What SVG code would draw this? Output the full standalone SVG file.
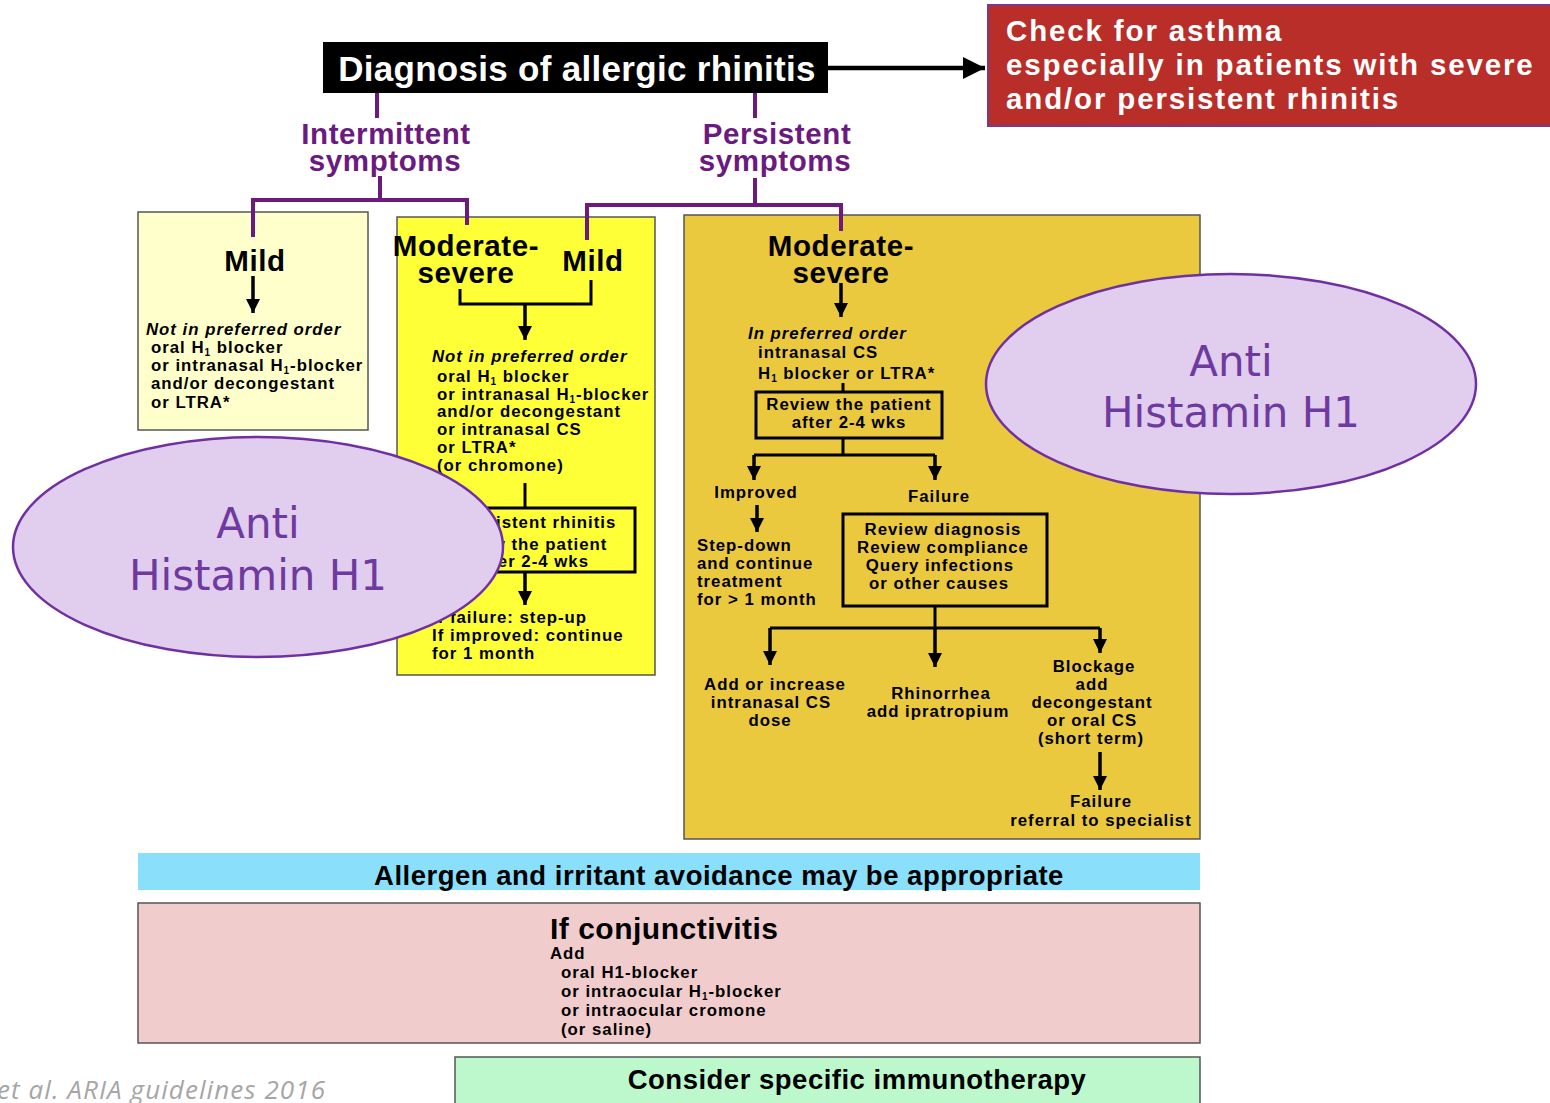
<svg xmlns="http://www.w3.org/2000/svg" width="1550" height="1103" viewBox="0 0 1550 1103">
<defs>
<marker id="ah" markerUnits="userSpaceOnUse" markerWidth="16" markerHeight="14" refX="14" refY="7" orient="auto">
<path d="M0,0 L14,7 L0,14 z" fill="#000"/>
</marker>
<marker id="ahb" markerUnits="userSpaceOnUse" markerWidth="24" markerHeight="22" refX="22" refY="11" orient="auto">
<path d="M0,0 L22,11 L0,22 z" fill="#000"/>
</marker>
</defs>
<style>
text{font-family:"Liberation Sans",Arial,sans-serif;font-weight:bold;fill:#000}
.b{font-size:16.8px;letter-spacing:1px}
.i{font-style:italic}
.big{font-size:29.5px;letter-spacing:0.6px}
.pur{fill:#6b1a80}
.mid{text-anchor:middle}
.box{stroke:#555;stroke-width:1.5}
.blk{fill:none;stroke:#000;stroke-width:3}
.pl{fill:none;stroke:#6d1a7e;stroke-width:4}
.ar{fill:none;stroke:#000;stroke-width:3.5;marker-end:url(#ah)}
.ell{fill:#e1cdee;stroke:#7030a0;stroke-width:2.5}
.et{font-family:"DejaVu Sans",Verdana,sans-serif;font-weight:normal;font-size:42px;fill:#6f3aa0;text-anchor:middle}
.sub{font-size:10px}
</style>

<g id="title">
<rect x="323" y="42" width="505" height="51" fill="#000"/>
<text x="577" y="81" class="mid" style="font-size:35px;letter-spacing:0.3px;fill:#fff">Diagnosis of allergic rhinitis</text>
</g>

<g id="asthma">
<rect x="988" y="5" width="566" height="121" fill="#b92e29" stroke="#7a3a8a" stroke-width="2"/>
<text style="font-size:29.5px;letter-spacing:1.85px;fill:#fff">
<tspan x="1006" y="41">Check for asthma</tspan>
<tspan x="1006" y="75">especially in patients with severe</tspan>
<tspan x="1006" y="109">and/or persistent rhinitis</tspan>
</text>
</g>

<g id="intermittent">
<text class="big pur mid"><tspan x="386" y="144">Intermittent</tspan><tspan x="385" y="171">symptoms</tspan></text>
</g>
<g id="persistent">
<text class="big pur mid"><tspan x="777" y="144">Persistent</tspan><tspan x="775" y="171">symptoms</tspan></text>
</g>

<g id="mild-intermittent">
<rect x="138" y="212" width="230" height="218" fill="#ffffcc" class="box"/>
<text x="255" y="271" class="big mid">Mild</text>
<text x="146" y="335" class="b i">Not in preferred order</text>
<text class="b">
<tspan x="151" y="353">oral H<tspan dy="3" class="sub">1</tspan><tspan dy="-3"> blocker</tspan></tspan>
<tspan x="151" y="371">or intranasal H<tspan dy="3" class="sub">1</tspan><tspan dy="-3">-blocker</tspan></tspan>
<tspan x="151" y="389">and/or decongestant</tspan>
<tspan x="151" y="408">or LTRA*</tspan>
</text>
</g>

<g id="yellow-box">
<rect x="397" y="217" width="258" height="458" fill="#ffff38" class="box"/>
<text class="big mid"><tspan x="466" y="256">Moderate-</tspan><tspan x="466" y="283">severe</tspan></text>
<text x="593" y="271" class="big mid">Mild</text>
<text x="432" y="362" class="b i">Not in preferred order</text>
<text class="b">
<tspan x="437" y="382">oral H<tspan dy="3" class="sub">1</tspan><tspan dy="-3"> blocker</tspan></tspan>
<tspan x="437" y="400">or intranasal H<tspan dy="3" class="sub">1</tspan><tspan dy="-3">-blocker</tspan></tspan>
<tspan x="437" y="417">and/or decongestant</tspan>
<tspan x="437" y="435">or intranasal CS</tspan>
<tspan x="437" y="453">or LTRA*</tspan>
<tspan x="437" y="471">(or chromone)</tspan>
</text>
<rect x="452" y="508" width="183" height="64" fill="none" class="blk" stroke-width="2.5"/>
<text class="b" text-anchor="end">
<tspan x="622" y="528">Persistent rhinitis</tspan>
<tspan x="613" y="550">Review the patient</tspan>
<tspan x="589" y="567">after 2-4 wks</tspan>
</text>
<text class="b">
<tspan x="432" y="623">If failure: step-up</tspan>
<tspan x="432" y="641">If improved: continue</tspan>
<tspan x="432" y="659">for 1 month</tspan>
</text>
</g>

<g id="orange-box">
<rect x="684" y="215" width="516" height="624" fill="#ebc93e" class="box"/>
<text class="big mid"><tspan x="841" y="256">Moderate-</tspan><tspan x="841" y="283">severe</tspan></text>
<text x="748" y="339" class="b i">In preferred order</text>
<text class="b">
<tspan x="758" y="358">intranasal CS</tspan>
<tspan x="758" y="379">H<tspan dy="3" class="sub">1</tspan><tspan dy="-3"> blocker or LTRA*</tspan></tspan>
</text>
</g>

<g id="review-1">
<rect x="756" y="392" width="186" height="46" fill="none" class="blk" stroke-width="2.5"/>
<text class="b mid"><tspan x="849" y="410">Review the patient</tspan><tspan x="849" y="428">after 2-4 wks</tspan></text>
</g>
<g id="improved">
<text x="756" y="498" class="b mid">Improved</text>
</g>
<g id="failure">
<text x="939" y="502" class="b mid">Failure</text>
</g>
<g id="step-down">
<text class="b"><tspan x="697" y="551">Step-down</tspan><tspan x="697" y="569">and continue</tspan><tspan x="697" y="587">treatment</tspan><tspan x="697" y="605">for &gt; 1 month</tspan></text>
</g>
<g id="review-2">
<rect x="843" y="514" width="204" height="92" fill="none" class="blk" stroke-width="2.5"/>
<text class="b mid"><tspan x="943" y="535">Review diagnosis</tspan><tspan x="943" y="553">Review compliance</tspan><tspan x="940" y="571">Query infections</tspan><tspan x="939" y="589">or other causes</tspan></text>
</g>
<g id="add-cs">
<text class="b mid"><tspan x="775" y="690">Add or increase</tspan><tspan x="771" y="708">intranasal CS</tspan><tspan x="770" y="726">dose</tspan></text>
</g>
<g id="rhinorrhea">
<text class="b mid"><tspan x="941" y="699">Rhinorrhea</tspan><tspan x="938" y="717">add ipratropium</tspan></text>
</g>
<g id="blockage">
<text class="b mid"><tspan x="1094" y="672">Blockage</tspan><tspan x="1092" y="690">add</tspan><tspan x="1092" y="708">decongestant</tspan><tspan x="1092" y="726">or oral CS</tspan><tspan x="1091" y="744">(short term)</tspan></text>
</g>
<g id="referral">
<text class="b mid"><tspan x="1101" y="807">Failure</tspan><tspan x="1101" y="826">referral to specialist</tspan></text>
</g>

<g id="avoidance">
<rect x="138" y="853" width="1062" height="37" fill="#8adffb"/>
<text x="719" y="885" class="mid" style="font-size:27.5px;letter-spacing:0.5px">Allergen and irritant avoidance may be appropriate</text>
</g>

<g id="conjunctivitis">
<rect x="138" y="903" width="1062" height="140" fill="#f0cccc" class="box"/>
<text x="550" y="939" style="font-size:30px;letter-spacing:0.5px">If conjunctivitis</text>
<text class="b">
<tspan x="550" y="959">Add</tspan>
<tspan x="561" y="978">oral H1-blocker</tspan>
<tspan x="561" y="997">or intraocular H<tspan dy="3" class="sub">1</tspan><tspan dy="-3">-blocker</tspan></tspan>
<tspan x="561" y="1016">or intraocular cromone</tspan>
<tspan x="561" y="1035">(or saline)</tspan>
</text>
</g>

<g id="immunotherapy">
<rect x="455" y="1057" width="745" height="60" fill="#bdf8cd" class="box"/>
<text x="857" y="1089" class="mid" style="font-size:27.5px;letter-spacing:0.5px">Consider specific immunotherapy</text>
</g>

<g id="connectors">
<path d="M828,68 H985" fill="none" stroke="#000" stroke-width="4.5" marker-end="url(#ahb)"/>
<path class="pl" d="M377,93 V118"/>
<path class="pl" d="M380,176 V200 M253,237 V200 H467 V225"/>
<path class="pl" d="M755,93 V118"/>
<path class="pl" d="M755,178 V205 M587,240 V205 H841 V231"/>
<path class="ar" d="M253,276 V313"/>
<path class="blk" d="M460,289 V304 H591 V280"/>
<path class="ar" d="M525,304 V340"/>
<path class="blk" d="M525,483 V508"/>
<path class="ar" d="M525,572 V605"/>
<path class="ar" d="M841,283 V317"/>
<path class="blk" d="M843,383 V392"/>
<path class="blk" d="M843,438 V455 M754,455 H935"/>
<path class="ar" d="M754,455 V480"/>
<path class="ar" d="M935,455 V480"/>
<path class="ar" d="M757,505 V532"/>
<path class="blk" d="M935,606 V628 M770,628 H1100"/>
<path class="ar" d="M770,628 V665"/>
<path class="ar" d="M935,628 V667"/>
<path class="ar" d="M1100,628 V653"/>
<path class="ar" d="M1100,752 V790"/>
</g>

<g id="antihistamine-left">
<ellipse cx="258" cy="547" rx="245" ry="110" class="ell"/>
<text class="et"><tspan x="258" y="538">Anti</tspan><tspan x="258" y="590">Histamin H1</tspan></text>
</g>
<g id="antihistamine-right">
<ellipse cx="1231" cy="384" rx="245" ry="110" class="ell"/>
<text class="et"><tspan x="1231" y="376">Anti</tspan><tspan x="1231" y="427">Histamin H1</tspan></text>
</g>

<g id="citation">
<text x="-3" y="1099" textLength="328" style="font-family:'Open Sans','DejaVu Sans',sans-serif;font-weight:normal;font-style:italic;font-size:26px;fill:#a6a6a6">et al. ARIA guidelines 2016</text>
</g>
</svg>
